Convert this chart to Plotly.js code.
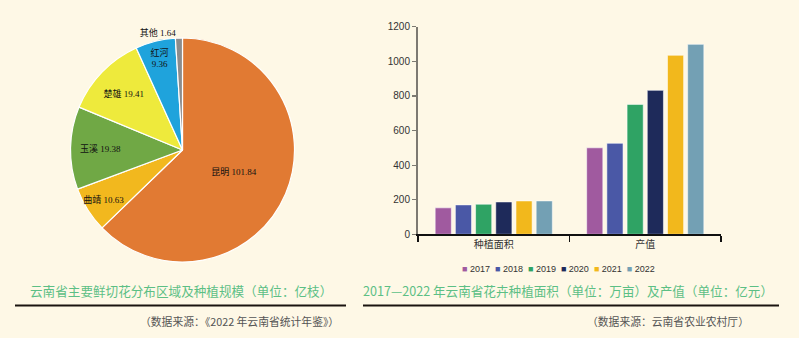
<!DOCTYPE html>
<html><head><meta charset="utf-8">
<script src="https://cdn.plot.ly/plotly-3.0.1.min.js"></script>
<style>html,body{margin:0;padding:0;background:#fef8e6;}#c{width:799px;height:338px;}</style>
</head><body><div id="c"></div>
<script>
// Pie data: 云南省主要鲜切花分布区域及种植规模（亿枝）
const regions = ['昆明', '曲靖', '玉溪', '楚雄', '红河', '其他'];
const regionValues = [101.84, 10.63, 19.38, 19.41, 9.36, 1.64];
const regionColors = ['#e17a33', '#f2b81e', '#70a845', '#eeea3c', '#1fa3dc', '#8c8c8c'];

// Bar data: 2017—2022 年云南省花卉种植面积（万亩）及产值（亿元）
const barCategories = ['种植面积', '产值'];
const years = ['2017', '2018', '2019', '2020', '2021', '2022'];
const area = [153, 170, 174, 187, 193, 193];
const output = [500, 526, 751, 832, 1035, 1098];
const yearColors = ['#a05a9f', '#4a58a6', '#2fa364', '#1e2a5a', '#f2b81c', '#73a0b4'];
const yTicks = [0, 200, 400, 600, 800, 1000, 1200];

const W = 799, H = 338;
const px = x => x / W, py = y => 1 - y / H;

const traces = [];
traces.push({
  type: 'pie', labels: regions, values: regionValues, sort: false,
  direction: 'clockwise', rotation: 0,
  marker: {colors: regionColors, line: {color: '#ffffff', width: 1.2}},
  domain: {x: [px(70), px(295)], y: [py(262), py(38)]},
  texttemplate: regions.map((r, i) => r === '红河' ? '%{label}<br>%{value}' : '%{label} %{value}'),
  textposition: regions.map(r => r === '其他' ? 'outside' : 'inside'),
  insidetextorientation: 'horizontal',
  textfont: {family: 'Liberation Serif, Noto Sans CJK SC', size: 9, color: '#111'},
  showlegend: false, hoverinfo: 'label+value'
});
years.forEach((y, i) => {
  traces.push({
    type: 'bar', name: y, x: barCategories, y: [area[i], output[i]],
    marker: {color: yearColors[i], line: {color: 'rgba(255,255,255,0.55)', width: 1}},
    showlegend: false, xaxis: 'x', yaxis: 'y'
  });
});

const legendText = years.map((y, i) => `<span style="color:${yearColors[i]}">■</span> ${y}`).join('  ');
const green = '#5cbf85';
const layout = {
  width: W, height: H, margin: {l: 0, r: 0, t: 0, b: 0},
  paper_bgcolor: '#fef8e6', plot_bgcolor: 'rgba(0,0,0,0)',
  font: {family: 'Noto Sans CJK SC, Liberation Sans', color: '#333'},
  barmode: 'group', bargap: 0.2, bargroupgap: 0.2,
  uniformtext: {mode: 'show', minsize: 9},
  xaxis: {domain: [px(418), px(721)], showline: true, linecolor: '#111', linewidth: 1.5,
    ticks: 'outside', tickson: 'boundaries', ticklen: 6, tickcolor: '#111', tickwidth: 1.5,
    tickfont: {size: 10, color: '#333', family: 'Noto Sans CJK SC'}, showgrid: false, zeroline: false, fixedrange: true},
  yaxis: {domain: [py(234.3), py(26.7)], range: [0, 1200], tickvals: yTicks, showline: true,
    linecolor: '#7d7a72', linewidth: 2, ticks: 'outside', ticklen: 4, tickcolor: '#7d7a72', tickwidth: 1.2,
    tickfont: {size: 10, color: '#333', family: 'Liberation Sans'}, showgrid: false, zeroline: false, fixedrange: true},
  annotations: [
    {xref: 'paper', yref: 'paper', x: px(558), y: py(269), text: legendText, showarrow: false,
      font: {size: 9, color: '#333', family: 'Liberation Sans'}, xanchor: 'center', yanchor: 'middle'},
    {xref: 'paper', yref: 'paper', x: px(181), y: py(290), text: '云南省主要鲜切花分布区域及种植规模（单位：亿枝）', showarrow: false,
      font: {size: 12.6, color: green, family: 'Noto Sans CJK SC'}, xanchor: 'center', yanchor: 'middle'},
    {xref: 'paper', yref: 'paper', x: px(568), y: py(290), text: '2017—2022 年云南省花卉种植面积（单位：万亩）及产值（单位：亿元）', showarrow: false,
      font: {size: 12.6, color: green, family: 'Noto Sans CJK SC'}, xanchor: 'center', yanchor: 'middle'},
    {xref: 'paper', yref: 'paper', x: px(341), y: py(321), text: '（数据来源：《2022 年云南省统计年鉴》）', showarrow: false,
      font: {size: 10.8, color: '#555', family: 'Noto Sans CJK SC'}, xanchor: 'right', yanchor: 'middle'},
    {xref: 'paper', yref: 'paper', x: px(751), y: py(321), text: '（数据来源：云南省农业农村厅）', showarrow: false,
      font: {size: 10.8, color: '#555', family: 'Noto Sans CJK SC'}, xanchor: 'right', yanchor: 'middle'}
  ],
  shapes: [
    {type: 'line', xref: 'paper', yref: 'paper', x0: px(15), x1: px(346), y0: py(305.5), y1: py(305.5), line: {color: '#1a1410', width: 2.2}},
    {type: 'line', xref: 'paper', yref: 'paper', x0: px(363), x1: px(779), y0: py(305.5), y1: py(305.5), line: {color: '#1a1410', width: 2.2}}
  ]
};
Plotly.newPlot('c', traces, layout, {displayModeBar: false, staticPlot: true});
</script></body></html>
